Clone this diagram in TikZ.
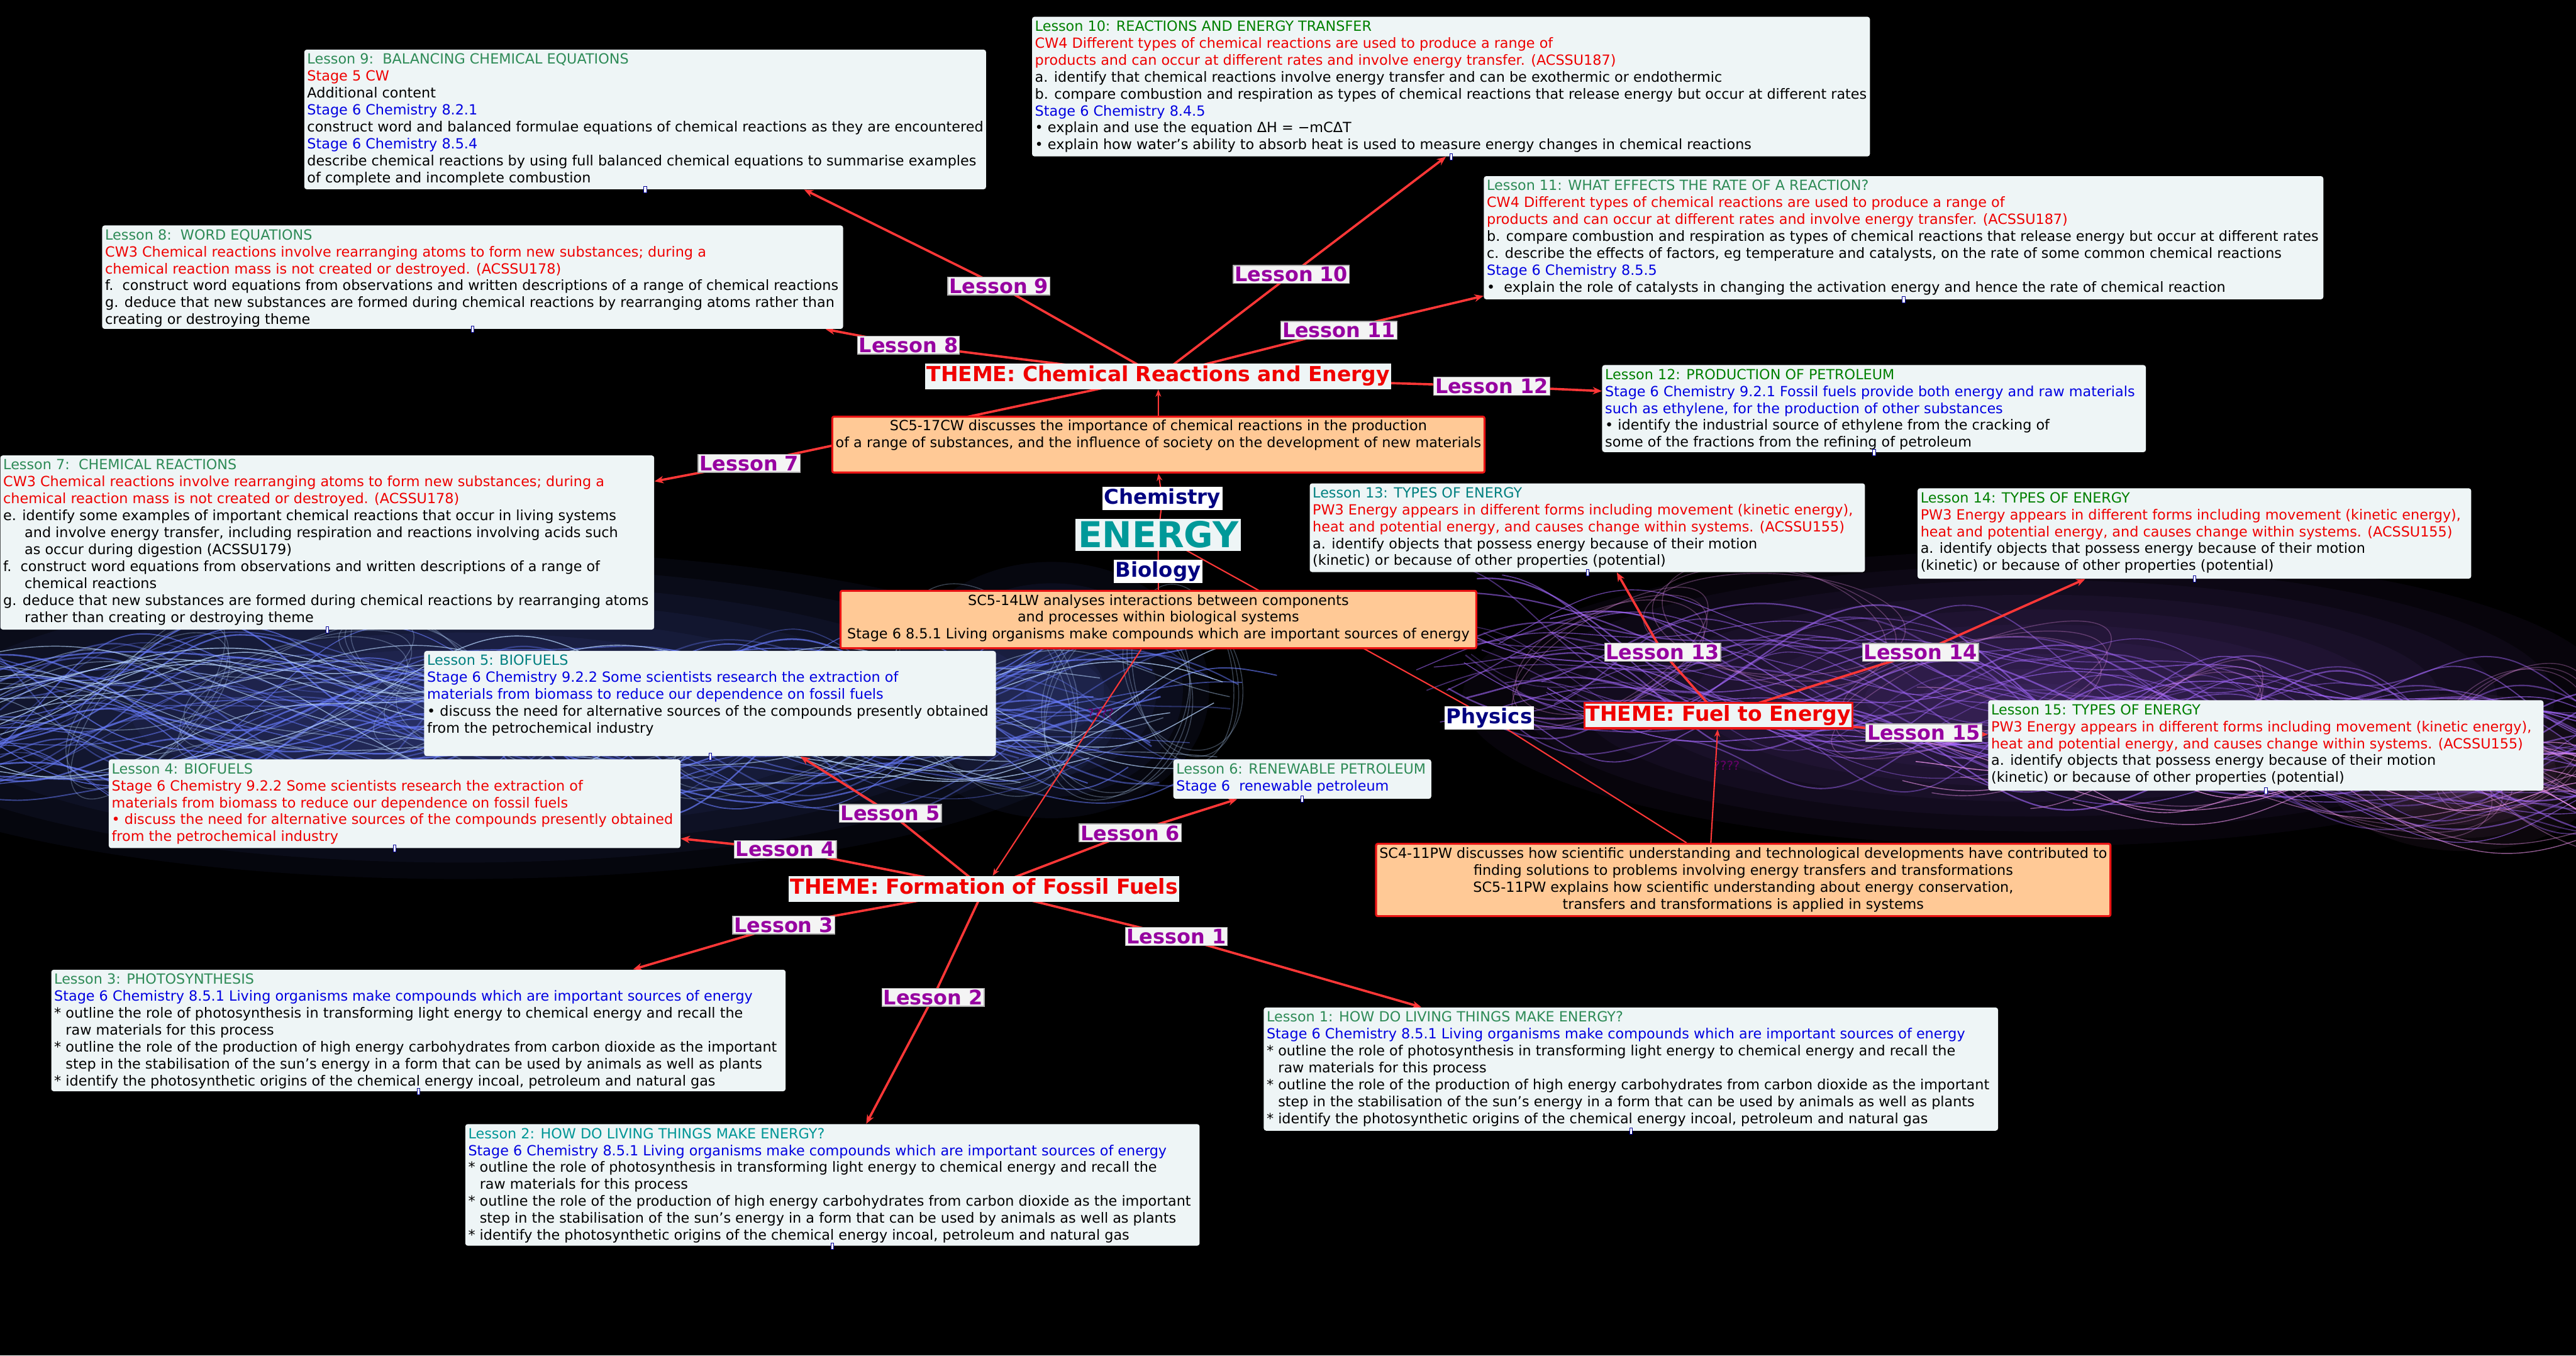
\documentclass[tikz,border=0pt]{standalone}
\usepackage{fontspec}
\setmainfont{DejaVu Sans}
\usetikzlibrary{arrows.meta,calc}
\pgfdeclarelayer{bg}
\pgfdeclarelayer{lines}
\pgfsetlayers{bg,lines,main}
\definecolor{boxfill}{RGB}{238,245,246}
\definecolor{orangefill}{RGB}{255,201,150}
\definecolor{boxred}{RGB}{235,20,20}
\definecolor{linered}{RGB}{255,55,55}
\definecolor{tred}{RGB}{238,0,0}
\definecolor{tblue}{RGB}{0,0,225}
\definecolor{tgreen}{RGB}{0,128,0}
\definecolor{tsea}{RGB}{46,139,87}
\definecolor{tteal}{RGB}{0,128,128}
\definecolor{tteal2}{RGB}{0,150,150}
\definecolor{lessonpurple}{RGB}{150,0,160}
\definecolor{labelfill}{RGB}{244,244,244}
\definecolor{labelgray}{RGB}{170,170,170}
\definecolor{themered}{RGB}{240,0,0}
\definecolor{navy}{RGB}{0,0,128}
\definecolor{energyteal}{RGB}{0,153,153}
\definecolor{qpurple}{RGB}{105,0,105}
\definecolor{smokeblue}{RGB}{105,125,255}
\definecolor{smokecyan}{RGB}{185,215,255}
\definecolor{smokepurple}{RGB}{165,105,255}
\definecolor{smokepink}{RGB}{240,150,240}
\newcommand{\mkbox}[6]{%
  \node[lboxst, minimum width=#4, minimum height=#5, anchor=north west] (#1) at (#2,#3) {};
  \node[ltext, anchor=north west] (#1t) at ([xshift=1pt,yshift=-1.6pt]#1.north west) {#6};
}
\begin{document}
\begin{tikzpicture}[x=1pt,y=-1pt,
  lboxst/.style={fill=boxfill, rounded corners=1.5pt, inner sep=0pt, draw=none},
  ltext/.style={align=left, inner sep=0.8pt, font=\fontsize{8.54}{10.3}\selectfont, text=black},
  obox/.style={fill=orangefill, draw=boxred, line width=1.2pt, rounded corners=1pt, inner sep=0pt},
  otext/.style={align=center, inner sep=0.8pt, font=\fontsize{8.54}{10.3}\selectfont, text=black},
  lesson/.style={fill=labelfill, draw=labelgray, line width=0.5pt, text=lessonpurple, font=\bfseries\fontsize{12.2}{13}\selectfont, inner sep=0.9pt},
  theme/.style={fill=boxfill, text=themered, font=\bfseries\fontsize{12.6}{14}\selectfont, inner xsep=1pt, inner ysep=1.5pt, text height=9.6pt, text depth=3pt},
  subj/.style={fill=white, text=navy, font=\bfseries\fontsize{12.4}{14}\selectfont, inner sep=1pt},
  conn/.style={draw=linered, line width=1.4pt, -{Stealth[length=5.5pt,width=4.5pt]}},
  thinconn/.style={draw=linered, line width=0.8pt},
  thinarrow/.style={draw=linered, line width=0.8pt, -{Stealth[length=4.5pt,width=3.5pt]}},
  handle/.style={draw=blue!60!black, fill=white, line width=0.3pt, minimum width=1.6pt, minimum height=4pt, inner sep=0pt},
  qq/.style={text=qpurple, font=\fontsize{7.5}{8}\selectfont, inner sep=0pt}
]
\useasboundingbox (0,0) rectangle (1568,825);

% ---------------- background ----------------
\begin{pgfonlayer}{bg}
\fill[black] (0,0) rectangle (1568,825);
\pgfmathsetseed{1234}
\foreach \r in {1,...,10} {\fill[smokeblue, opacity=0.05] (280,435) ellipse ({40*\r} and {10*\r});}
\foreach \r in {1,...,6} {\fill[smokeblue, opacity=0.06] (640,420) ellipse ({16*\r} and {13*\r});}
\foreach \k in {1,...,40} {
  \pgfmathsetmacro\pa{360*rnd}
  \pgfmathsetmacro\pb{360*rnd}
  \pgfmathsetmacro\fa{0.35+0.5*rnd}
  \pgfmathsetmacro\fb{1.1+1.4*rnd}
  \pgfmathsetmacro\am{15+35*rnd}
  \pgfmathsetmacro\ab{5+12*rnd}
  \pgfmathsetmacro\op{0.25+0.45*rnd}
  \pgfmathsetmacro\lw{0.5+0.5*rnd}
  \pgfmathsetmacro\xe{620+160*rnd}
  \draw[smokeblue, opacity=\op, line width=\lw pt] plot[smooth, samples=70, domain=0:\xe] (\x,{438+\am*sin(\fa*\x+\pa)+\ab*sin(\fb*\x+\pb)});
}
\foreach \k in {1,...,16} {
  \pgfmathsetmacro\pa{360*rnd}
  \pgfmathsetmacro\pb{360*rnd}
  \pgfmathsetmacro\fa{0.35+0.5*rnd}
  \pgfmathsetmacro\fb{1.1+1.4*rnd}
  \pgfmathsetmacro\am{12+30*rnd}
  \pgfmathsetmacro\op{0.35+0.45*rnd}
  \pgfmathsetmacro\xe{560+200*rnd}
  \draw[smokecyan, opacity=\op, line width=0.55pt] plot[smooth, samples=70, domain=0:\xe] (\x,{435+\am*sin(\fa*\x+\pa)+8*sin(\fb*\x+\pb)});
}
\foreach \cx/\cy/\a/\b/\ang in {180/420/70/28/15, 330/440/90/35/-10, 600/420/45/70/30, 680/430/40/60/-25, 90/430/60/30/40, 480/450/70/25/10, 250/400/40/22/-30, 720/410/30/55/10} {
  \foreach \j in {0,1,2} {
    \draw[smokecyan, opacity=0.3, line width=0.55pt, rotate around={\ang+6*\j:(\cx,\cy)}] (\cx,\cy) ellipse ({\a*(1+0.07*\j)} and {\b*(1-0.06*\j)});
  }
}
\foreach \r in {1,...,10} {\fill[smokepurple, opacity=0.045] (1240,425) ellipse ({35*\r} and {9*\r});}
\foreach \r in {1,...,6} {\fill[smokepink, opacity=0.05] (1500,470) ellipse ({14*\r} and {8*\r});}
\foreach \k in {1,...,40} {
  \pgfmathsetmacro\pa{360*rnd}
  \pgfmathsetmacro\pb{360*rnd}
  \pgfmathsetmacro\fa{0.35+0.5*rnd}
  \pgfmathsetmacro\fb{1.1+1.4*rnd}
  \pgfmathsetmacro\am{15+35*rnd}
  \pgfmathsetmacro\ab{5+12*rnd}
  \pgfmathsetmacro\op{0.25+0.45*rnd}
  \pgfmathsetmacro\lw{0.5+0.5*rnd}
  \pgfmathsetmacro\xs{860+90*rnd}
  \draw[smokepurple, opacity=\op, line width=\lw pt] plot[smooth, samples=70, domain=\xs:1568] (\x,{400+0.09*(\x-860)+\am*sin(\fa*\x+\pa)+\ab*sin(\fb*\x+\pb)});
}
\foreach \k in {1,...,16} {
  \pgfmathsetmacro\pa{360*rnd}
  \pgfmathsetmacro\pb{360*rnd}
  \pgfmathsetmacro\fa{0.4+0.5*rnd}
  \pgfmathsetmacro\fb{1.1+1.4*rnd}
  \pgfmathsetmacro\am{12+25*rnd}
  \pgfmathsetmacro\op{0.35+0.45*rnd}
  \pgfmathsetmacro\xs{1150+150*rnd}
  \draw[smokepink, opacity=\op, line width=0.55pt] plot[smooth, samples=50, domain=\xs:1568] (\x,{450+0.08*(\x-1150)+\am*sin(\fa*\x+\pa)+8*sin(\fb*\x+\pb)});
}
\foreach \cx/\cy/\a/\b/\ang in {980/400/60/30/20, 1080/380/70/35/-15, 1200/420/80/30/10, 1450/470/70/35/-20, 1530/450/50/40/30, 1330/440/50/25/25} {
  \foreach \j in {0,1,2} {
    \draw[smokepink, opacity=0.3, line width=0.55pt, rotate around={\ang+6*\j:(\cx,\cy)}] (\cx,\cy) ellipse ({\a*(1+0.07*\j)} and {\b*(1-0.06*\j)});
  }
}
\end{pgfonlayer}

% ---------------- lesson boxes ----------------
\mkbox{L10}{628}{10}{510}{85}{\textcolor{tgreen}{Lesson 10: REACTIONS AND ENERGY TRANSFER}\\
\textcolor{tred}{CW4 Different types of chemical reactions are used to produce a range of}\\
\textcolor{tred}{products and can occur at different rates and involve energy transfer. (ACSSU187)}\\
a. identify that chemical reactions involve energy transfer and can be exothermic or endothermic\\
b. compare combustion and respiration as types of chemical reactions that release energy but occur at different rates\\
\textcolor{tblue}{Stage 6 Chemistry 8.4.5}\\
• explain and use the equation ΔH = −mCΔT\\
• explain how water’s ability to absorb heat is used to measure energy changes in chemical reactions}

\mkbox{L9}{185}{30}{415}{85}{\textcolor{tsea}{Lesson 9:\ \ BALANCING CHEMICAL EQUATIONS}\\
\textcolor{tred}{Stage 5 CW}\\
Additional content\\
\textcolor{tblue}{Stage 6 Chemistry 8.2.1}\\
construct word and balanced formulae equations of chemical reactions as they are encountered\\
\textcolor{tblue}{Stage 6 Chemistry 8.5.4}\\
describe chemical reactions by using full balanced chemical equations to summarise examples\\
of complete and incomplete combustion}

\mkbox{L11}{903}{107}{511}{75}{\textcolor{tsea}{Lesson 11: WHAT EFFECTS THE RATE OF A REACTION?}\\
\textcolor{tred}{CW4 Different types of chemical reactions are used to produce a range of}\\
\textcolor{tred}{products and can occur at different rates and involve energy transfer. (ACSSU187)}\\
b. compare combustion and respiration as types of chemical reactions that release energy but occur at different rates\\
c. describe the effects of factors, eg temperature and catalysts, on the rate of some common chemical reactions\\
\textcolor{tblue}{Stage 6 Chemistry 8.5.5}\\
•\ \ explain the role of catalysts in changing the activation energy and hence the rate of chemical reaction}

\mkbox{L8}{62}{137}{451}{63}{\textcolor{tsea}{Lesson 8:\ \ WORD EQUATIONS}\\
\textcolor{tred}{CW3 Chemical reactions involve rearranging atoms to form new substances; during a}\\
\textcolor{tred}{chemical reaction mass is not created or destroyed. (ACSSU178)}\\
f.\ \ construct word equations from observations and written descriptions of a range of chemical reactions\\
g. deduce that new substances are formed during chemical reactions by rearranging atoms rather than\\
creating or destroying theme}

\mkbox{L12}{975}{222}{331}{53}{\textcolor{tgreen}{Lesson 12: PRODUCTION OF PETROLEUM}\\
\textcolor{tblue}{Stage 6 Chemistry 9.2.1 Fossil fuels provide both energy and raw materials}\\
\textcolor{tblue}{such as ethylene, for the production of other substances}\\
• identify the industrial source of ethylene from the cracking of\\
some of the fractions from the refining of petroleum}

\mkbox{L7}{0}{277}{398}{106}{\textcolor{tsea}{Lesson 7:\ \ CHEMICAL REACTIONS}\\
\textcolor{tred}{CW3 Chemical reactions involve rearranging atoms to form new substances; during a}\\
\textcolor{tred}{chemical reaction mass is not created or destroyed. (ACSSU178)}\\
e. identify some examples of important chemical reactions that occur in living systems\\
\hspace*{13pt}and involve energy transfer, including respiration and reactions involving acids such\\
\hspace*{13pt}as occur during digestion (ACSSU179)\\
f.\ \ construct word equations from observations and written descriptions of a range of\\
\hspace*{13pt}chemical reactions\\
g. deduce that new substances are formed during chemical reactions by rearranging atoms\\
\hspace*{13pt}rather than creating or destroying theme}

\mkbox{L13}{797}{294}{338}{54}{\textcolor{tteal}{Lesson 13: TYPES OF ENERGY}\\
\textcolor{tred}{PW3 Energy appears in different forms including movement (kinetic energy),}\\
\textcolor{tred}{heat and potential energy, and causes change within systems. (ACSSU155)}\\
a. identify objects that possess energy because of their motion\\
(kinetic) or because of other properties (potential)}

\mkbox{L14}{1167}{297}{337}{55}{\textcolor{tgreen}{Lesson 14: TYPES OF ENERGY}\\
\textcolor{tred}{PW3 Energy appears in different forms including movement (kinetic energy),}\\
\textcolor{tred}{heat and potential energy, and causes change within systems. (ACSSU155)}\\
a. identify objects that possess energy because of their motion\\
(kinetic) or because of other properties (potential)}

\mkbox{L15}{1210}{426}{338}{55}{\textcolor{tgreen}{Lesson 15: TYPES OF ENERGY}\\
\textcolor{tred}{PW3 Energy appears in different forms including movement (kinetic energy),}\\
\textcolor{tred}{heat and potential energy, and causes change within systems. (ACSSU155)}\\
a. identify objects that possess energy because of their motion\\
(kinetic) or because of other properties (potential)}

\mkbox{L5}{258}{396}{348}{64}{\textcolor{tteal}{Lesson 5: BIOFUELS}\\
\textcolor{tblue}{Stage 6 Chemistry 9.2.2 Some scientists research the extraction of}\\
\textcolor{tblue}{materials from biomass to reduce our dependence on fossil fuels}\\
• discuss the need for alternative sources of the compounds presently obtained\\
from the petrochemical industry}

\mkbox{L4}{66}{462}{348}{54}{\textcolor{tsea}{Lesson 4: BIOFUELS}\\
\textcolor{tred}{Stage 6 Chemistry 9.2.2 Some scientists research the extraction of}\\
\textcolor{tred}{materials from biomass to reduce our dependence on fossil fuels}\\
\textcolor{tred}{• discuss the need for alternative sources of the compounds presently obtained}\\
\textcolor{tred}{from the petrochemical industry}}

\mkbox{L6}{714}{462}{157}{24}{\textcolor{tsea}{Lesson 6: RENEWABLE PETROLEUM}\\
\textcolor{tblue}{Stage 6\ \ renewable petroleum}}

\mkbox{L3}{31}{590}{447}{74}{\textcolor{tsea}{Lesson 3: PHOTOSYNTHESIS}\\
\textcolor{tblue}{Stage 6 Chemistry 8.5.1 Living organisms make compounds which are important sources of energy}\\
* outline the role of photosynthesis in transforming light energy to chemical energy and recall the\\
\hspace*{7pt}raw materials for this process\\
* outline the role of the production of high energy carbohydrates from carbon dioxide as the important\\
\hspace*{7pt}step in the stabilisation of the sun’s energy in a form that can be used by animals as well as plants\\
* identify the photosynthetic origins of the chemical energy incoal, petroleum and natural gas}

\mkbox{L1}{769}{613}{447}{75}{\textcolor{tsea}{Lesson 1: HOW DO LIVING THINGS MAKE ENERGY?}\\
\textcolor{tblue}{Stage 6 Chemistry 8.5.1 Living organisms make compounds which are important sources of energy}\\
* outline the role of photosynthesis in transforming light energy to chemical energy and recall the\\
\hspace*{7pt}raw materials for this process\\
* outline the role of the production of high energy carbohydrates from carbon dioxide as the important\\
\hspace*{7pt}step in the stabilisation of the sun’s energy in a form that can be used by animals as well as plants\\
* identify the photosynthetic origins of the chemical energy incoal, petroleum and natural gas}

\mkbox{L2}{283}{684}{447}{74}{\textcolor{tteal2}{Lesson 2: HOW DO LIVING THINGS MAKE ENERGY?}\\
\textcolor{tblue}{Stage 6 Chemistry 8.5.1 Living organisms make compounds which are important sources of energy}\\
* outline the role of photosynthesis in transforming light energy to chemical energy and recall the\\
\hspace*{7pt}raw materials for this process\\
* outline the role of the production of high energy carbohydrates from carbon dioxide as the important\\
\hspace*{7pt}step in the stabilisation of the sun’s energy in a form that can be used by animals as well as plants\\
* identify the photosynthetic origins of the chemical energy incoal, petroleum and natural gas}

\foreach \b in {L10,L9,L11,L8,L12,L7,L13,L14,L15,L5,L4,L6,L3,L1,L2} {
  \node[handle] (h\b) at (\b.south) {};
}

% ---------------- orange outcome boxes ----------------
\node[obox, minimum width=397, minimum height=34, anchor=north west] (SC17) at (506,253) {};
\node[otext, anchor=north] (SC17t) at ([yshift=-1.5pt]SC17.north) {SC5-17CW discusses the importance of chemical reactions in the production\\
of a range of substances, and the influence of society on the development of new materials};

\node[obox, minimum width=387, minimum height=35, anchor=north west] (SC14) at (511,359) {};
\node[otext, anchor=north] (SC14t) at ([yshift=-1.8pt]SC14.north) {SC5-14LW analyses interactions between components\\
and processes within biological systems\\
Stage 6 8.5.1 Living organisms make compounds which are important sources of energy};

\node[obox, minimum width=447, minimum height=44, anchor=north west] (SC11) at (837,513) {};
\node[otext, anchor=north] (SC11t) at ([yshift=-1.8pt]SC11.north) {SC4-11PW discusses how scientific understanding and technological developments have contributed to\\
finding solutions to problems involving energy transfers and transformations\\
SC5-11PW explains how scientific understanding about energy conservation,\\
transfers and transformations is applied in systems};

% ---------------- central labels ----------------
\node[subj] (Chem) at (707.5,303.5) {Chemistry};
\node[fill=boxfill, text=energyteal, font=\bfseries\fontsize{21.7}{24}\selectfont, inner sep=1.5pt] (EN) at (705,325.5) {ENERGY};
\node[subj] (Bio) at (705,347.8) {Biology};
\node[subj] (Phys) at (906.5,437) {Physics};

% ---------------- themes ----------------
\node[theme] (TC) at (705,229) {THEME: Chemical Reactions and Energy};
\node[theme, draw=boxred, line width=1.3pt] (TFu) at (1046,435.5) {THEME: Fuel to Energy};
\node[theme] (TFo) at (599,541) {THEME: Formation of Fossil Fuels};

% ---------------- lesson labels ----------------
\node[lesson] (lb7) at (456,282) {Lesson 7};
\node[lesson] (lb8) at (553,210) {Lesson 8};
\node[lesson] (lb9) at (608,174) {Lesson 9};
\node[lesson] (lb10) at (786,167) {Lesson 10};
\node[lesson] (lb11) at (815,201) {Lesson 11};
\node[lesson] (lb12) at (908,235) {Lesson 12};
\node[lesson] (lb13) at (1012,397) {Lesson 13};
\node[lesson] (lb14) at (1169,397) {Lesson 14};
\node[lesson] (lb15) at (1171,446) {Lesson 15};
\node[lesson] (lb5) at (542,495) {Lesson 5};
\node[lesson] (lb4) at (478,517) {Lesson 4};
\node[lesson] (lb6) at (688,507) {Lesson 6};
\node[lesson] (lb3) at (477,563) {Lesson 3};
\node[lesson] (lb2) at (568,607) {Lesson 2};
\node[lesson] (lb1) at (716,570) {Lesson 1};

\node[qq] (q1) at (670,434) {????};
\node[qq] (q2) at (1051,466) {????};

% ---------------- connectors ----------------
\begin{pgfonlayer}{lines}
% chemical reactions theme
\draw[conn] (TC.center) -- (lb9.center) -- ($(L9.south west)!0.733!(L9.south east)$);
\draw[conn] (TC.center) -- (lb8.center) -- ($(L8.south west)!0.976!(L8.south east)$);
\draw[conn] (TC.center) -- (lb10.center) -- ($(L10.south west)!0.494!(L10.south east)$);
\draw[conn] (TC.center) -- (lb11.center) -- ($(L11.north west)!0.97!(L11.south west)$);
\draw[conn] (TC.center) -- (lb12.center) -- ($(L12.north west)!0.30!(L12.south west)$);
\draw[conn] (TC.center) -- (lb7.center) -- ($(L7.north east)!0.15!(L7.south east)$);
% fuel to energy theme
\draw[conn] (TFu.center) -- (lb13.center) -- ($(L13.south west)!0.553!(L13.south east)$);
\draw[conn] (TFu.center) -- (lb14.center) -- ($(L14.south west)!0.303!(L14.south east)$);
\draw[conn] (TFu.center) -- (lb15.center) -- ($(L15.north west)!0.38!(L15.south west)$);
% formation of fossil fuels theme
\draw[conn] (TFo.center) -- (lb5.center) -- ($(L5.south west)!0.658!(L5.south east)$);
\draw[conn] (TFo.center) -- (lb4.center) -- ($(L4.north east)!0.89!(L4.south east)$);
\draw[conn] (TFo.center) -- (lb6.center) -- ($(L6.south west)!0.248!(L6.south east)$);
\draw[conn] (TFo.center) -- (lb3.center) -- ($(L3.north west)!0.792!(L3.north east)$);
\draw[conn] (TFo.center) -- (lb2.center) -- ($(L2.north west)!0.546!(L2.north east)$);
\draw[conn] (TFo.center) -- (lb1.center) -- ($(L1.north west)!0.215!(L1.north east)$);
% subject links
\draw[thinarrow] (EN.center) -- (Chem.center) -- (SC17.south);
\draw[thinarrow] (SC17.north) -- (TC);
\draw[thinconn] (EN.center) -- (Bio.center) -- (SC14.north);
\draw[thinconn] (EN.center) -- (Phys.center) -- ($(SC11.north west)!0.423!(SC11.north east)$);
\draw[thinarrow] ($(SC14.south west)!0.473!(SC14.south east)$) -- (TFo);
\draw[thinarrow] ($(SC11.north west)!0.456!(SC11.north east)$) -- (TFu);
\end{pgfonlayer}
\end{tikzpicture}
\end{document}
